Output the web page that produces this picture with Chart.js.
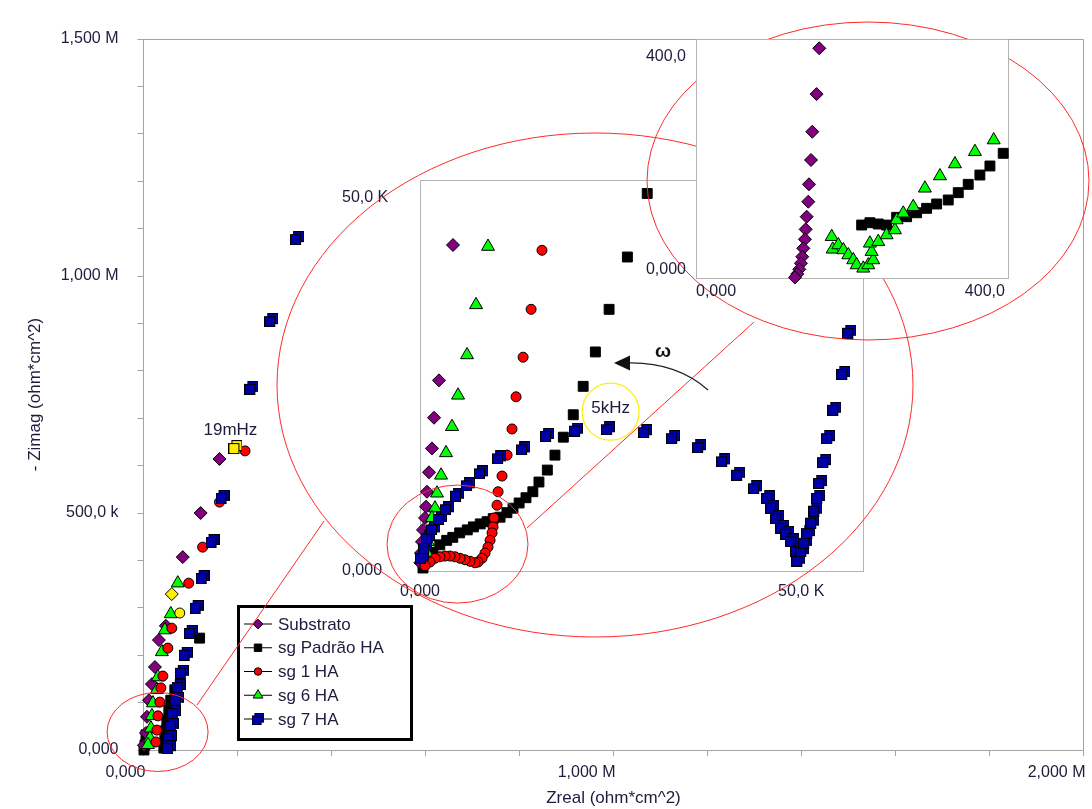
<!DOCTYPE html>
<html>
<head>
<meta charset="utf-8">
<script src="https://cdn.jsdelivr.net/npm/chart.js@4.4.0/dist/chart.umd.min.js"></script>
<style>
  html, body { margin: 0; padding: 0; background: #fff; }
  #wrap { position: relative; width: 1092px; height: 809px; overflow: hidden; }
  #wrap canvas { position: absolute; left: 0; top: 0; }
</style>
</head>
<body>
<div id="wrap">
  <canvas id="mainCanvas" width="1092" height="809"></canvas>
  <canvas id="midCanvas" width="1092" height="809"></canvas>
  <canvas id="topCanvas" width="1092" height="809"></canvas>
</div>
<script>
// ── Data ─────────────────────────────────────────────────────────────
const seriesNames = ['Substrato', 'sg Padrão HA', 'sg 1 HA', 'sg 6 HA', 'sg 7 HA'];

// main plot, M ohm*cm^2
const mainSubstrato = [[161.7,614],[121.6,500],[83.5,407],[47.6,262],[32.8,232],[24.3,175],[18,139],[11.6,105],[7.4,70],[5.3,36],[1,10]];
const mainPadrao = [[119.4,236],[66.6,127],[58,105],[53.9,84],[49.7,63],[47.6,42],[45.4,21],[43.3,4],[5.3,32],[3.2,11],[1,0]];
const mainSg1 = [[216,631],[161.7,523],[125.8,428],[96.2,352],[60.2,257],[51.8,215],[41.2,156],[37,131],[34.9,101],[30.6,72],[28.5,42],[26.4,17]];
const mainSg6 = [[72.9,352],[58.1,287],[45.5,253],[39.1,207],[30.7,154],[28.5,127],[20.1,99],[18,72],[15.9,46],[13.7,25],[9.5,11]];
const mainSg7 = [[326.6,1080],[271.7,907],[229.4,764],[168.1,534],[146.9,441],[125.8,365],[113.1,302],[100.4,249],[89.8,203],[81.4,165],[75,135],[70.8,108],[64.5,80],[60.2,53],[56,27],[54,6]];
// 19 mHz points (highlighted yellow): sg 7, Substrato, sg 1
const mainLowFreq = [[195.6,639],[60.2,329],[77.1,289]];
const mainLowFreqSeries = [4, 0, 2];

// middle inset, K ohm*cm^2
const midSubstrato = [[4.33,43.6],[2.49,25.5],[1.84,20.5],[1.57,16.4],[1.18,13.2],[0.92,10.6],[0.79,8.6],[0.66,7.1],[0.39,5.5],[0.26,3.9],[0.13,2.4],[0.05,1.1]];
const midPadrao = [[29.8,50.5],[27.2,42.0],[24.8,35.0],[23.0,29.3],[21.4,24.7],[20.1,20.9],[18.8,17.9],[17.7,15.5],[16.7,13.5],[15.6,11.9],[14.8,10.6],[13.9,9.8],[13.0,9.1],[12.2,8.4],[11.4,7.8],[10.5,7.2],[9.6,7.0],[8.8,6.6],[7.9,6.3],[7.0,5.9],[6.2,5.5],[5.2,5.1],[4.3,4.5],[3.5,4.1],[2.6,3.5],[1.7,2.5],[1.05,1.5],[0.39,0.4]];
const midSg1 = [[16.0,42.9],[14.57,35.0],[13.52,28.6],[12.6,23.3],[12.07,19.0],[11.42,15.5],[10.76,12.7],[10.24,10.6],[10.1,8.8],[9.71,7.1],[9.58,5.9],[9.45,5.1],[9.19,4.1],[8.92,3.2],[8.53,2.4],[8.14,1.7],[7.61,1.2],[7.22,1.1],[6.56,1.3],[5.91,1.5],[5.25,1.7],[4.59,1.9],[3.94,2.0],[3.28,2.0],[2.62,1.9],[1.97,1.7],[1.31,1.2],[0.66,0.7]];
const midSg6 = [[8.92,43.4],[7.35,35.6],[6.17,28.9],[4.99,23.5],[4.2,19.3],[3.41,15.8],[2.76,12.8],[2.23,10.4],[1.97,8.4],[1.57,7.1],[1.31,5.5],[1.05,3.9],[0.92,2.4],[0.79,1.2]];
const midSg7 = [[0.26,1.9],[0.66,3.2],[1.05,4.5],[1.71,5.7],[2.62,7.1],[3.54,8.4],[4.86,10.2],[6.3,11.6],[8.0,13.2],[10.37,15.2],[13.52,16.4],[16.67,18.2],[20.47,18.9],[24.67,19.1],[29.53,18.7],[33.2,17.9],[36.61,16.7],[39.76,14.8],[41.73,13.0],[43.96,11.2],[45.67,9.9],[46.19,8.6],[46.85,7.2],[47.51,5.9],[48.16,5.1],[48.82,4.1],[49.48,2.8],[49.61,1.5],[50.13,2.8],[50.52,3.9],[50.92,5.2],[51.44,6.6],[51.84,8.2],[52.23,9.9],[52.49,11.9],[53.02,14.7],[53.54,17.9],[54.33,21.7],[55.51,26.5],[56.3,32.0]];
const mid5kHzIndex = 13;

// top-right inset, ohm*cm^2
const topSubstrato = [[159.6,429.6],[156.2,344],[150.6,273.6],[148.9,220.7],[146.3,175.2],[145.4,142.7],[143.3,114.6],[142,91],[141.1,72.4],[138.9,55.5],[137.6,39.8],[135.9,27.5],[133.7,16.3],[131.1,7.5],[128.2,1]];
const topPadrao = [[214.5,99.1],[225.2,103.4],[236,101],[246.8,99],[259.8,113.5],[272.7,114.6],[285.7,122],[298.6,130.3],[311.6,138.4],[326.6,145.9],[339.6,159.6],[352.5,175.2],[367.6,192.6],[380.6,209.5],[397.8,233.2]];
const topSg6 = [[175.7,77.2],[177,53.6],[184.3,61.7],[190.8,52.4],[197.2,43],[203.7,33.7],[208,24.3],[216.6,18.1],[223.1,24.3],[229.5,33.7],[227.4,49.2],[225.2,64.9],[236,67.9],[246.8,80.4],[257.6,89.8],[259.8,108.5],[268.4,121],[281.3,133.3],[296.4,167.8],[315.9,190.8],[335.3,213.2],[361.2,236.2],[385.5,258]];

// tick labels
const mainXTickValues = [0, 1000, 2000];
const mainXTickLabels = ['0,000', '1,000 M', '2,000 M'];
const mainYTickValues = [0, 500, 1000, 1500];
const mainYTickLabels = ['0,000', '500,0 k', '1,000 M', '1,500 M'];
const midTickValues = [0, 50];
const midTickLabels = ['0,000', '50,0 K'];
const topTickValues = [0, 400];
const topTickLabels = ['0,000', '400,0'];

// ── Styles ───────────────────────────────────────────────────────────
const FONT = '"Liberation Sans", Arial, sans-serif';
const TEXT = '#1c1c3c';
const AXIS = '#a4a4a4';
const RED = '#ff2a2a';
Chart.defaults.font.family = FONT;
Chart.defaults.color = TEXT;

function makeDoubleSquare(fill) {
    const c = document.createElement('canvas');
    c.width = 14; c.height = 14;
    const g = c.getContext('2d');
    g.fillStyle = fill; g.strokeStyle = '#000'; g.lineWidth = 1;
    g.fillRect(3.5, 0.5, 10, 10); g.strokeRect(3.5, 0.5, 10, 10);
    g.fillRect(0.5, 3.5, 10, 10); g.strokeRect(0.5, 3.5, 10, 10);
    return c;
}
const blueSquares = makeDoubleSquare('#0000a8');
const yellowSquares = makeDoubleSquare('#ffee00');

const markerStyles = [
    { style: 'rectRot', radius: 6.5, fill: '#800080' },
    { style: 'rect', radius: 7, fill: '#000000' },
    { style: 'circle', radius: 5, fill: '#ff0000' },
    { style: 'triangle', radius: 7.5, fill: '#00ff00' },
    { style: blueSquares, radius: 7, fill: '#0000a8' },
];
const seriesOrder = [4, 5, 2, 3, 1];   // lower draws on top

function seriesDatasets(sets) {
    return sets.map((pts, i) => ({
        label: seriesNames[i],
        data: pts.map(p => ({ x: p[0], y: p[1] })),
        pointStyle: markerStyles[i].style,
        pointRadius: markerStyles[i].radius,
        backgroundColor: markerStyles[i].fill,
        borderColor: '#000',
        borderWidth: 1,
        clip: false,
        order: seriesOrder[i],
    }));
}

function tickLabel(values, labels) {
    return v => {
        const i = values.findIndex(t => Math.abs(t - v) < 1e-6);
        return i < 0 ? '' : labels[i];
    };
}

function drawMarker(ctx, i, x, y, k) {
    const m = markerStyles[i];
    if (typeof m.style !== 'string') {
        const w = m.style.width * k, h = m.style.height * k;
        ctx.drawImage(m.style, x - w / 2, y - h / 2, w, h);
        return;
    }
    const r = m.radius * k;
    ctx.beginPath();
    if (m.style === 'rectRot') {
        ctx.moveTo(x, y - r); ctx.lineTo(x + r, y); ctx.lineTo(x, y + r); ctx.lineTo(x - r, y);
    } else if (m.style === 'rect') {
        const s = r * Math.SQRT1_2;
        ctx.rect(x - s, y - s, 2 * s, 2 * s);
    } else if (m.style === 'circle') {
        ctx.arc(x, y, r, 0, Math.PI * 2);
    } else {
        ctx.moveTo(x, y - r); ctx.lineTo(x + r * 0.866, y + r / 2); ctx.lineTo(x - r * 0.866, y + r / 2);
    }
    ctx.closePath();
    ctx.fillStyle = m.fill; ctx.fill();
    ctx.strokeStyle = '#000'; ctx.lineWidth = 1; ctx.stroke();
}

const baseOptions = {
    responsive: false,
    animation: false,
    events: [],
    plugins: { legend: { display: false }, tooltip: { enabled: false } },
};

// ── Main plot ────────────────────────────────────────────────────────
const frameAndLegend = {
    id: 'frameAndLegend',
    afterDraw(chart) {
        const { ctx, chartArea: a } = chart;
        ctx.save();
        ctx.strokeStyle = AXIS; ctx.lineWidth = 1;
        ctx.beginPath();
        ctx.moveTo(a.left, a.top + 0.5); ctx.lineTo(a.right, a.top + 0.5); ctx.lineTo(a.right, a.bottom);
        ctx.stroke();

        ctx.fillStyle = '#fff';
        ctx.fillRect(237, 605, 176, 136);
        ctx.lineWidth = 3; ctx.strokeStyle = '#000';
        ctx.strokeRect(238.5, 606.5, 173, 133);
        ctx.font = '17px ' + FONT;
        ctx.textBaseline = 'middle';
        seriesNames.forEach((name, i) => {
            const y = 624 + i * 23.75;
            ctx.strokeStyle = '#000'; ctx.lineWidth = 1;
            ctx.beginPath(); ctx.moveTo(244, y); ctx.lineTo(272, y); ctx.stroke();
            drawMarker(ctx, i, 258, y, i === 4 ? 0.9 : 0.75);
            ctx.fillStyle = TEXT;
            ctx.fillText(name, 278, y + 1);
        });
        ctx.restore();
    }
};

const mainData = seriesDatasets([mainSubstrato, mainPadrao, mainSg1, mainSg6, mainSg7]);
mainData.push({
    label: '19 mHz',
    data: mainLowFreq.map(p => ({ x: p[0], y: p[1] })),
    pointStyle: mainLowFreqSeries.map(i => i === 4 ? yellowSquares : markerStyles[i].style),
    pointRadius: mainLowFreqSeries.map(i => markerStyles[i].radius),
    backgroundColor: '#ffee00',
    borderColor: '#000',
    borderWidth: 1,
    clip: false,
    order: 0,
});

const mainChart = new Chart(document.getElementById('mainCanvas'), {
    type: 'scatter',
    data: { datasets: mainData },
    options: {
        ...baseOptions,
        layout: { padding: { left: 0, right: 2, top: 39, bottom: 0 } },
        scales: {
            x: {
                type: 'linear', min: 0, max: 2000,
                ticks: { stepSize: 200, autoSkip: false, maxRotation: 0, align: 'end', labelOffset: 2, padding: 7,
                         font: { size: 16 }, color: TEXT, callback: tickLabel(mainXTickValues, mainXTickLabels) },
                grid: { drawOnChartArea: false, drawTicks: true, tickLength: 6, color: AXIS },
                border: { color: AXIS, width: 1 },
                title: { display: true, text: 'Zreal (ohm*cm^2)', font: { size: 17 }, color: TEXT, padding: { top: 0, bottom: 0 } },
                afterFit: s => { s.height = 59; },
            },
            y: {
                type: 'linear', min: 0, max: 1500,
                ticks: { stepSize: 100, autoSkip: false, padding: 19, font: { size: 16 }, color: TEXT,
                         callback: tickLabel(mainYTickValues, mainYTickLabels) },
                grid: { drawOnChartArea: false, drawTicks: true, tickLength: 6, color: AXIS },
                border: { color: AXIS, width: 1 },
                title: { display: true, text: '- Zimag (ohm*cm^2)', font: { size: 17 }, color: TEXT, padding: { top: 25, bottom: 0 } },
                afterFit: s => { s.width = 143.5; },
            }
        }
    },
    plugins: [frameAndLegend]
});

// ── Inset helpers ────────────────────────────────────────────────────
function boxPlugin(id, before) {
    return {
        id,
        beforeDraw(chart) {
            const { ctx, chartArea: a } = chart;
            ctx.save();
            if (before) before(chart, ctx);
            ctx.fillStyle = '#fff';
            ctx.fillRect(a.left, a.top, a.right - a.left, a.bottom - a.top);
            ctx.strokeStyle = '#b4b4b4'; ctx.lineWidth = 1;
            ctx.strokeRect(Math.round(a.left) + 0.5, Math.round(a.top) + 0.5,
                Math.round(a.right - a.left), Math.round(a.bottom - a.top));
            ctx.restore();
        }
    };
}

function insetScale(axis, max, values, labels, extra) {
    return Object.assign({
        type: 'linear', min: 0, max,
        afterBuildTicks: s => { s.ticks = values.map(v => ({ value: v })); },
        ticks: { autoSkip: false, maxRotation: 0, font: { size: 16 }, color: TEXT, callback: tickLabel(values, labels) },
        grid: { display: false, drawTicks: false },
        border: { display: false },
    }, extra);
}

// ── Middle inset (50,0 K) ────────────────────────────────────────────
const midChart = new Chart(document.getElementById('midCanvas'), {
    type: 'scatter',
    data: { datasets: seriesDatasets([midSubstrato, midPadrao, midSg1, midSg6, midSg7]) },
    options: {
        ...baseOptions,
        layout: { padding: { left: 342, right: 229, top: 180, bottom: 203 } },
        scales: {
            x: insetScale('x', 58.1, midTickValues, midTickLabels, { afterFit: s => { s.height = 35; } }),
            y: insetScale('y', 52.3, midTickValues, midTickLabels, { afterFit: s => { s.width = 78; } }),
        }
    },
    plugins: [boxPlugin('midBox')]
});
midChart.options.scales.x.ticks.padding = 11;
midChart.options.scales.y.ticks.crossAlign = 'far';
midChart.options.scales.y.ticks.padding = 0;
midChart.update();

// ── Annotations + top-right inset (400,0) ────────────────────────────
function drawAnnotations(chart, ctx) {
    const mx = mainChart.scales.x, my = mainChart.scales.y;
    const ix = midChart.scales.x, iy = midChart.scales.y;
    const ell = (cx, cy, rx, ry) => { ctx.beginPath(); ctx.ellipse(cx, cy, rx, ry, 0, 0, Math.PI * 2); ctx.stroke(); };
    const seg = (x1, y1, x2, y2) => { ctx.beginPath(); ctx.moveTo(x1, y1); ctx.lineTo(x2, y2); ctx.stroke(); };

    ctx.strokeStyle = RED; ctx.lineWidth = 1;
    ell(mx.getPixelForValue(30), my.getPixelForValue(38), 50.5, 39.5);
    seg(197, 705, 324, 521);
    ell(595, 385, 318, 252);
    ell(ix.getPixelForValue(4.92), iy.getPixelForValue(3.6), 70.5, 59);
    seg(527, 528, 754, 322);
    ell(868, 181, 221, 159);

    // 5 kHz marker
    const p5 = midSg7[mid5kHzIndex];
    const kx = ix.getPixelForValue(p5[0]) + 2.5, ky = iy.getPixelForValue(p5[1]) - 16.5;
    ctx.strokeStyle = '#ffee00'; ctx.lineWidth = 1.2;
    ctx.beginPath(); ctx.arc(kx, ky, 28.5, 0, Math.PI * 2); ctx.stroke();

    ctx.fillStyle = TEXT;
    ctx.font = '17px ' + FONT;
    ctx.textAlign = 'center'; ctx.textBaseline = 'middle';
    ctx.fillText('5kHz', kx, ky - 3);
    const lf = mainLowFreq[0];
    ctx.fillText('19mHz', mx.getPixelForValue(lf[0]) - 5, my.getPixelForValue(lf[1]) - 17);

    // frequency arrow
    ctx.strokeStyle = '#222'; ctx.lineWidth = 1.2;
    ctx.beginPath(); ctx.moveTo(708, 390); ctx.quadraticCurveTo(676, 362, 628, 363); ctx.stroke();
    ctx.fillStyle = '#111';
    ctx.beginPath(); ctx.moveTo(614, 363); ctx.lineTo(630, 355.5); ctx.lineTo(630, 370.5); ctx.closePath(); ctx.fill();
    ctx.font = 'bold 19px ' + FONT;
    ctx.fillText('ω', 663, 352);
}

const topChart = new Chart(document.getElementById('topCanvas'), {
    type: 'scatter',
    data: { datasets: seriesDatasets([topSubstrato, topPadrao]).concat(
        seriesDatasets([[], [], [], topSg6]).slice(3)) },
    options: {
        ...baseOptions,
        layout: { padding: { left: 626, right: 84, top: 39, bottom: 501 } },
        scales: {
            x: insetScale('x', 404, topTickValues, topTickLabels, { afterFit: s => { s.height = 30; } }),
            y: insetScale('y', 447, topTickValues, topTickLabels, { afterFit: s => { s.width = 70; } }),
        }
    },
    plugins: [boxPlugin('topBox', drawAnnotations)]
});
topChart.options.scales.x.ticks.align = 'inner';
topChart.options.scales.x.ticks.padding = 4;
topChart.options.scales.y.ticks.align = 'end';
topChart.options.scales.y.ticks.padding = 10;
topChart.update();
</script>
</body>
</html>
